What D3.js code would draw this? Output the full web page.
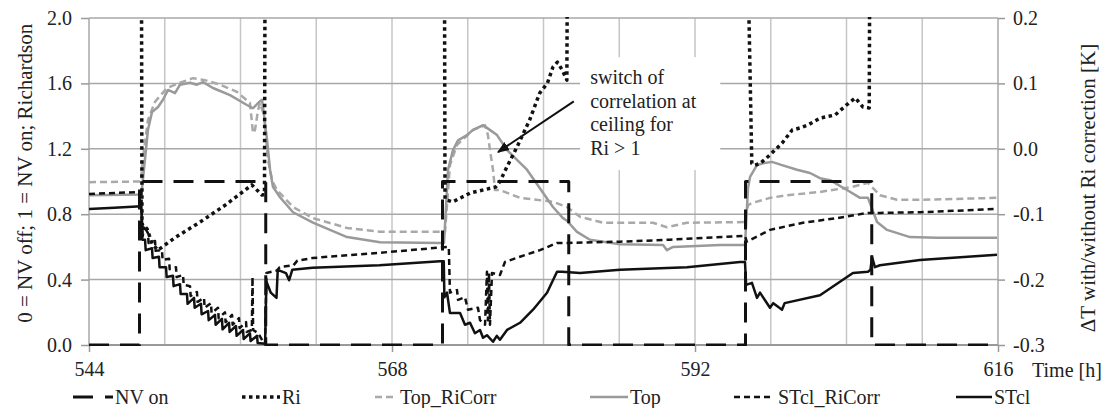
<!DOCTYPE html>
<html>
<head>
<meta charset="utf-8">
<script src="https://cdn.jsdelivr.net/npm/d3@7"></script>
<style>
    body { margin: 0; background: #fff; }
</style>
</head>
<body>
<svg id="chart" width="1104" height="408"></svg>
<script>
// time [h] on x, left axis: NV state / Richardson, right axis: delta T [K]
var xTicks = [544, 568, 592, 616];
var leftTicks = [0.0, 0.4, 0.8, 1.2, 1.6, 2.0];
var rightTicks = [-0.3, -0.2, -0.1, 0.0, 0.1, 0.2];

var nvOn = [[544,0],[548,0],[548,1],[558,1],[558,0],[572,0],[572,1],[582,1],[582,0],[596,0],[596,1],[606,1],[606,0],[616,0]];

// Ri is off the scale (>2) while NV is off -> null breaks
var ri = [[548.15,2.5],[548.2,0.66],[548.35,0.73],[548.6,0.71],[549.0,0.62],[549.45,0.58],[550.8,0.656],[552.8,0.752],[554.8,0.856],[556.9,0.979],[557.7,0.917],[557.9,0.92],[557.95,2.5],[558,null],
    [572.1,null],[572.15,2.5],[572.2,0.89],[572.8,0.875],[574.2,0.93],[576.2,0.966],[576.55,1.0],[577.1,1.089],[577.9,1.211],[578.9,1.376],[579.7,1.541],[580.3,1.60],[580.75,1.70],[581.1,1.73],[581.5,1.68],[581.85,1.62],[581.9,2.5],[582,null],
    [596.1,null],[596.15,2.5],[596.5,1.11],[596.75,1.10],[597.15,1.11],[597.9,1.16],[598.9,1.235],[599.7,1.315],[600.3,1.327],[600.95,1.346],[601.9,1.388],[603.1,1.407],[604.0,1.468],[604.7,1.511],[605.3,1.456],[605.8,1.45],[605.85,2.5]];

var topRiCorr = [[544,-0.051],[548.1,-0.050],[548.3,-0.010],[548.67,0.044],[549.23,0.072],[550.18,0.093],[551.21,0.101],[552.24,0.108],[553.19,0.105],[554.38,0.098],[555.72,0.087],[556.75,0.070],[556.99,0.024],[557.15,0.029],[557.39,0.059],[557.54,0.070],[557.86,0.052],[558.18,-0.017],[558.5,-0.048],[558.89,-0.063],[560.16,-0.089],[561.74,-0.106],[564.44,-0.121],[567.05,-0.127],[571.8,-0.127],[572.2,-0.127],[572.59,-0.025],[573.15,0.006],[574.42,0.029],[575.37,0.036],[575.6,0.021],[575.76,-0.002],[576.0,-0.032],[576.16,-0.063],[576.55,-0.063],[578.14,-0.075],[580.75,-0.081],[581.86,-0.089],[582.89,-0.104],[584.71,-0.113],[588.67,-0.113],[589.78,-0.120],[591.37,-0.113],[595.96,-0.112],[596.2,-0.086],[596.51,-0.083],[597.94,-0.075],[599.29,-0.071],[601.9,-0.066],[604.51,-0.058],[605.70,-0.052],[606.65,-0.071],[608.0,-0.078],[609.82,-0.078],[615.92,-0.075]];

var top_ = [[544,-0.071],[548.15,-0.070],[548.35,-0.032],[548.67,0.029],[548.99,0.056],[549.47,0.064],[549.86,0.075],[550.26,0.090],[550.81,0.085],[551.21,0.098],[552.0,0.101],[552.55,0.098],[553.03,0.102],[553.82,0.093],[555.17,0.082],[556.51,0.067],[556.99,0.062],[557.39,0.070],[557.70,0.075],[557.86,0.052],[558.1,0.014],[558.34,-0.032],[558.57,-0.058],[559.13,-0.074],[560.16,-0.097],[561.74,-0.113],[564.44,-0.135],[567.05,-0.143],[571.8,-0.144],[572.12,-0.144],[572.44,-0.032],[572.83,-0.002],[573.23,0.013],[573.94,0.021],[574.42,0.029],[575.21,0.036],[575.52,0.032],[576.32,0.021],[577.11,-0.002],[578.69,-0.032],[580.75,-0.089],[581.54,-0.106],[581.86,-0.110],[582.65,-0.127],[583.68,-0.139],[586.06,-0.146],[589.47,-0.147],[589.78,-0.155],[590.26,-0.150],[593.98,-0.147],[595.96,-0.147],[596.2,-0.060],[596.36,-0.043],[596.91,-0.025],[597.39,-0.022],[598.1,-0.020],[598.89,-0.025],[600.08,-0.032],[601.11,-0.037],[601.9,-0.045],[602.69,-0.048],[604.04,-0.063],[605.07,-0.075],[605.70,-0.075],[606.42,-0.112],[607.21,-0.124],[609.03,-0.135],[611.17,-0.136],[615.92,-0.136]];

var stclRiCorr = [[544,-0.069],[548.15,-0.066],[548.2,-0.113],[548.67,-0.129],[548.72,-0.144],[549.23,-0.141],[549.28,-0.156],[549.78,-0.155],[549.83,-0.170],[550.34,-0.168],[550.39,-0.184],[550.89,-0.181],[550.94,-0.196],[551.45,-0.193],[551.50,-0.208],[552.0,-0.210],[552.05,-0.225],[552.55,-0.219],[552.6,-0.234],[553.11,-0.228],[553.16,-0.243],[553.66,-0.236],[553.71,-0.251],[554.22,-0.243],[554.27,-0.259],[554.77,-0.250],[554.82,-0.265],[555.33,-0.254],[555.38,-0.269],[555.88,-0.259],[555.93,-0.274],[556.44,-0.265],[556.49,-0.280],[556.9,-0.277],[556.95,-0.196],[557.0,-0.277],[557.4,-0.282],[557.85,-0.297],[557.95,-0.297],[558.05,-0.190],[558.9,-0.186],[559.1,-0.181],[560.2,-0.178],[560.5,-0.171],[561.7,-0.167],[567.0,-0.159],[571.8,-0.151],[572.5,-0.150],[572.59,-0.220],[573.15,-0.216],[573.23,-0.231],[573.78,-0.227],[574.02,-0.246],[574.81,-0.243],[574.97,-0.262],[575.37,-0.269],[575.52,-0.188],[575.6,-0.262],[575.68,-0.190],[575.76,-0.269],[575.92,-0.190],[576.55,-0.193],[576.95,-0.173],[578.14,-0.165],[579.72,-0.155],[581.07,-0.144],[581.94,-0.144],[586.06,-0.142],[590.02,-0.139],[595.96,-0.133],[596.1,-0.142],[597.94,-0.124],[600.55,-0.113],[603.25,-0.106],[605.70,-0.098],[606.65,-0.098],[609.82,-0.097],[615.92,-0.092]];

var stcl = [[544,-0.092],[546,-0.090],[548.15,-0.088],[548.22,-0.139],[548.44,-0.139],[548.49,-0.155],[548.99,-0.152],[549.04,-0.167],[549.54,-0.165],[549.59,-0.181],[550.10,-0.181],[550.15,-0.196],[550.65,-0.194],[550.70,-0.210],[551.21,-0.207],[551.26,-0.222],[551.76,-0.222],[551.81,-0.237],[552.32,-0.228],[552.37,-0.243],[552.87,-0.237],[552.92,-0.253],[553.43,-0.248],[553.48,-0.262],[553.98,-0.254],[554.03,-0.269],[554.53,-0.260],[554.58,-0.276],[555.09,-0.266],[555.14,-0.280],[555.64,-0.271],[555.69,-0.286],[556.20,-0.277],[556.25,-0.291],[556.75,-0.282],[556.80,-0.294],[557.31,-0.286],[557.36,-0.297],[557.95,-0.298],[558.05,-0.203],[558.4,-0.220],[558.85,-0.228],[558.95,-0.185],[559.6,-0.190],[559.85,-0.201],[560.1,-0.185],[561.7,-0.182],[567.0,-0.178],[571.8,-0.172],[572.1,-0.172],[572.15,-0.227],[572.36,-0.220],[572.59,-0.251],[573.39,-0.251],[573.78,-0.269],[574.18,-0.266],[574.57,-0.282],[574.97,-0.277],[575.21,-0.289],[575.52,-0.285],[576.0,-0.295],[576.3,-0.286],[576.55,-0.292],[577.11,-0.277],[578.14,-0.266],[579.17,-0.246],[580.28,-0.220],[581.07,-0.188],[581.47,-0.188],[582.89,-0.190],[586.06,-0.185],[591.37,-0.181],[595.56,-0.173],[595.96,-0.173],[596.05,-0.208],[596.51,-0.205],[596.91,-0.228],[597.15,-0.220],[597.94,-0.243],[598.2,-0.236],[598.6,-0.242],[598.89,-0.246],[599.1,-0.236],[601.9,-0.224],[604.51,-0.190],[605.70,-0.188],[605.9,-0.185],[606.02,-0.165],[606.25,-0.181],[606.65,-0.178],[609.82,-0.170],[615.92,-0.162]];

var annotationLines = ["switch of", "correlation at", "ceiling for", "Ri > 1"];

var FONT = "'Liberation Serif', 'Tinos', 'DejaVu Serif', serif";

var svg = d3.select("#chart");
var margin = {top: 18, right: 106, bottom: 63, left: 89},
    width = +svg.attr("width") - margin.left - margin.right,
    height = +svg.attr("height") - margin.top - margin.bottom,
    g = svg.append("g").attr("transform", "translate(" + margin.left + "," + margin.top + ")");

var x = d3.scaleLinear().domain([544, 616]).range([0, width]);
var yLeft = d3.scaleLinear().domain([0, 2]).range([height, 0]);
var yRight = d3.scaleLinear().domain([-0.3, 0.2]).range([height, 0]);

var defs = svg.append("defs");
defs.append("clipPath").attr("id", "plot-clip")
    .append("rect").attr("x", 0).attr("y", -1).attr("width", width).attr("height", height + 2);

// grid
g.selectAll(".vgrid")
    .data(d3.range(550, 616, 6))
    .enter().append("line")
        .attr("class", "vgrid")
        .attr("x1", d => x(d)).attr("x2", d => x(d))
        .attr("y1", 0).attr("y2", height)
        .attr("stroke", "#c6c6c6").attr("stroke-width", 1.5);

g.selectAll(".hgrid")
    .data(leftTicks)
    .enter().append("line")
        .attr("class", "hgrid")
        .attr("x1", 0).attr("x2", width)
        .attr("y1", d => yLeft(d)).attr("y2", d => yLeft(d))
        .attr("stroke", "#a8a8a8").attr("stroke-width", 1.5);

g.append("line").attr("x1", 0).attr("x2", 0).attr("y1", 0).attr("y2", height)
    .attr("stroke", "#a8a8a8").attr("stroke-width", 1.5);
g.append("line").attr("x1", x(616)).attr("x2", x(616)).attr("y1", 0).attr("y2", height)
    .attr("stroke", "#a8a8a8").attr("stroke-width", 1.5);
g.append("line").attr("x1", 0).attr("x2", width).attr("y1", height).attr("y2", height)
    .attr("stroke", "#999").attr("stroke-width", 2);

// axes
function styleAxis(sel) {
    sel.attr("font-family", FONT).attr("font-size", 20);
    sel.select(".domain").remove();
    sel.selectAll(".tick line").attr("stroke", "#999").attr("stroke-width", 1.5);
    sel.selectAll(".tick text").attr("fill", "#222");
}

g.append("g")
    .call(d3.axisLeft(yLeft).tickValues(leftTicks).tickFormat(d => d.toFixed(1)).tickSize(8).tickPadding(9))
    .call(styleAxis);

g.append("g")
    .attr("transform", "translate(" + width + ",0)")
    .call(d3.axisRight(yRight).tickValues(rightTicks).tickFormat(d => d.toFixed(1)).tickSize(7).tickPadding(8))
    .call(styleAxis);

g.append("g")
    .attr("transform", "translate(0," + height + ")")
    .call(d3.axisBottom(x).tickValues(xTicks).tickFormat(d3.format("d")).tickSize(7).tickPadding(10))
    .call(styleAxis);

// axis titles
var txt = svg.append("g").attr("font-family", FONT).attr("fill", "#222");

txt.append("text")
    .attr("transform", "translate(32," + (margin.top + yLeft(1.05)) + ") rotate(-90)")
    .attr("text-anchor", "middle").attr("font-size", 21)
    .text("0 = NV off; 1 = NV on; Richardson");

txt.append("text")
    .attr("transform", "translate(1095," + (margin.top + yRight(-0.06)) + ") rotate(-90)")
    .attr("text-anchor", "middle").attr("font-size", 21)
    .text("\u0394T with/without Ri correction [K]");

txt.append("text")
    .attr("x", 1032).attr("y", margin.top + height + 32)
    .attr("font-size", 20)
    .text("Time [h]");

// annotation box (hides grid behind text)
g.append("rect")
    .attr("x", x(582.9)).attr("y", yLeft(1.76))
    .attr("width", x(594.0) - x(582.9)).attr("height", yLeft(1.07) - yLeft(1.76))
    .attr("fill", "#fff");

// series
var lineLeft = d3.line()
    .defined(d => d[1] !== null)
    .x(d => x(d[0])).y(d => yLeft(d[1]));
var lineRight = d3.line()
    .x(d => x(d[0])).y(d => yRight(d[1]));

var series = [
    {name: "Top_RiCorr", data: topRiCorr, axis: "right", color: "#a9a9a9", width: 2.5, dash: "7,4"},
    {name: "Top", data: top_, axis: "right", color: "#9a9a9a", width: 2.5, dash: null},
    {name: "STcl_RiCorr", data: stclRiCorr, axis: "right", color: "#111", width: 2.5, dash: "6,4"},
    {name: "STcl", data: stcl, axis: "right", color: "#111", width: 2.5, dash: null},
    {name: "NV on", data: nvOn, axis: "left", color: "#111", width: 3, dash: "20,11"},
    {name: "Ri", data: ri, axis: "left", color: "#111", width: 3.5, dash: "3.5,3.5"}
];

var plot = g.append("g").attr("clip-path", "url(#plot-clip)");
series.forEach(function(s) {
    plot.append("path")
        .datum(s.data)
        .attr("fill", "none")
        .attr("stroke", s.color)
        .attr("stroke-width", s.width)
        .attr("stroke-dasharray", s.dash)
        .attr("stroke-linejoin", "round")
        .attr("d", s.axis === "left" ? lineLeft : lineRight);
});

// annotation
defs.append("marker")
    .attr("id", "arrow")
    .attr("viewBox", "0 0 10 10")
    .attr("refX", 9).attr("refY", 5)
    .attr("markerWidth", 6).attr("markerHeight", 6)
    .attr("orient", "auto")
    .append("path").attr("d", "M0,1L10,5L0,9z").attr("fill", "#111");

g.append("line")
    .attr("x1", x(582.4)).attr("y1", yLeft(1.49))
    .attr("x2", x(576.4)).attr("y2", yLeft(1.18))
    .attr("stroke", "#111").attr("stroke-width", 2)
    .attr("marker-end", "url(#arrow)");

g.append("g").attr("font-family", FONT).attr("fill", "#222")
    .selectAll("text")
    .data(annotationLines)
    .enter().append("text")
        .attr("x", x(583.7))
        .attr("y", (d, i) => 66 + i * 23.5)
        .attr("font-size", 20)
        .text(d => d);

// legend
var legendX = [{line: [73, 113], text: 115}, {line: [242, 280], text: 282}, {line: [375, 397], text: 400},
               {line: [590, 628], text: 630}, {line: [734, 774], text: 778}, {line: [956, 992], text: 994}];
var legendOrder = ["NV on", "Ri", "Top_RiCorr", "Top", "STcl_RiCorr", "STcl"];
var legend = svg.append("g").attr("transform", "translate(0,397)")
    .attr("font-family", FONT).attr("fill", "#222");
legendOrder.forEach(function(name, i) {
    var s = series.filter(d => d.name === name)[0];
    var pos = legendX[i];
    legend.append("line")
        .attr("x1", pos.line[0]).attr("x2", pos.line[1])
        .attr("y1", 0).attr("y2", 0)
        .attr("stroke", s.color)
        .attr("stroke-width", s.width)
        .attr("stroke-dasharray", name === "NV on" ? "20,12" : s.dash);
    legend.append("text")
        .attr("x", pos.text).attr("y", 6.5)
        .attr("font-size", 20)
        .text(name);
});
</script>
</body>
</html>
